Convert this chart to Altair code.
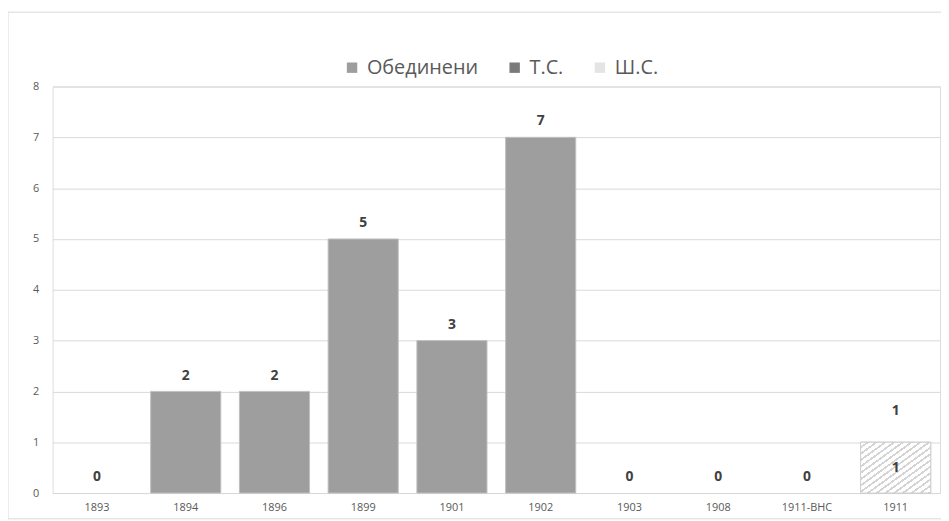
import altair as alt
import pandas as pd

categories = ["1893", "1894", "1896", "1899", "1901", "1902", "1903", "1908", "1911-ВНС", "1911"]
series = ["Обединени", "Т.С.", "Ш.С."]
obedineni = [0, 2, 2, 5, 3, 7, 0, 0, 0, 0]
ts = [0, 0, 0, 0, 0, 0, 0, 0, 0, 0]
shs = [0, 0, 0, 0, 0, 0, 0, 0, 0, 1]

rows = []
for i, c in enumerate(categories):
    for j, (s, vals) in enumerate(zip(series, [obedineni, ts, shs])):
        rows.append({"cat": c, "series": s, "order": j, "value": vals[i]})
df = pd.DataFrame(rows)
totals = pd.DataFrame({"cat": categories,
                       "total": [a + b + c for a, b, c in zip(obedineni, ts, shs)]})

W, H = 895, 410
FONT = "Open Sans"

x = alt.X("cat:N", sort=categories, title=None,
          scale=alt.Scale(paddingInner=0.21, paddingOuter=0.105),
          axis=alt.Axis(labelAngle=0, labelFontSize=11, labelColor="#595959",
                        labelFont=FONT, ticks=False, domainColor="#d9d9d9",
                        labelPadding=9))
y = alt.Y("value:Q", stack="zero", title=None,
          scale=alt.Scale(domain=[0, 8], nice=False),
          axis=alt.Axis(values=list(range(9)), labelFontSize=11, labelColor="#595959",
                        labelFont=FONT, ticks=False, domain=False, gridColor="#d9d9d9",
                        labelPadding=14))

bars = alt.Chart(df).transform_filter(alt.datum.value > 0).mark_bar(
    stroke="#bfbfbf", strokeWidth=1
).encode(
    x=x, y=y,
    order=alt.Order("order:Q"),
    color=alt.Color("series:N", sort=series,
                    scale=alt.Scale(domain=series, range=["#9e9e9e", "#7a7a7a", "#e4e4e4"]),
                    legend=alt.Legend(title=None, orient="none", direction="horizontal",
                                      legendX=292, legendY=-29, symbolType="square",
                                      symbolSize=110, symbolStrokeWidth=0,
                                      labelFontSize=20, labelFont=FONT, labelColor="#595959",
                                      columnPadding=26, labelOffset=5)),
)

N = 16
hatch = {
    "gradient": "linear", "x1": 0, "y1": 0, "x2": 1, "y2": 1,
    "stops": [s for k in range(N) for s in (
        {"offset": k / N, "color": "#ffffff"},
        {"offset": (k + 0.65) / N, "color": "#ffffff"},
        {"offset": (k + 0.65) / N, "color": "#d4d4d4"},
        {"offset": (k + 1) / N, "color": "#d4d4d4"},
    )],
}

hatch_layer = alt.Chart(df).transform_filter(
    (alt.datum.series == "Ш.С.") & (alt.datum.value > 0)
).transform_calculate(zero="0").mark_bar(stroke="#d0d0d0", strokeWidth=1).encode(
    x=alt.X("cat:N", sort=categories),
    y=alt.Y("value:Q"),
    y2=alt.Y2("zero:Q"),
    fill=alt.value(hatch),
)

inner_text = alt.Chart(df).transform_filter(
    (alt.datum.series == "Ш.С.") & (alt.datum.value > 0)
).transform_calculate(mid="datum.value / 2").mark_text(
    fontWeight="bold", fontSize=14, font=FONT, color="#404040"
).encode(
    x=alt.X("cat:N", sort=categories),
    y=alt.Y("mid:Q"),
    text=alt.Text("value:Q"),
)

top_text = alt.Chart(totals).transform_calculate(
    ly="datum.total + (datum.cat == '1911' ? 0.3 : 0)"
).mark_text(
    fontWeight="bold", fontSize=14, font=FONT, color="#404040", dy=-16
).encode(
    x=alt.X("cat:N", sort=categories),
    y=alt.Y("ly:Q"),
    text=alt.Text("total:Q"),
)

frame = alt.Chart(pd.DataFrame({"a": [0]})).mark_rect(
    fill=None, stroke="#d9d9d9", strokeWidth=1
).encode(
    x=alt.value(-45), x2=alt.value(W + 50),
    y=alt.value(-75), y2=alt.value(H + 26),
)

chart = alt.layer(frame, bars, hatch_layer, inner_text, top_text).properties(
    width=W, height=H,
    autosize=alt.AutoSizeParams(type="none"),
    padding={"left": 45, "top": 77, "right": 1, "bottom": 26},
).configure_view(stroke=None).configure(background="white")

chart.save("out.html", embed_options={"renderer": "svg", "actions": False})
